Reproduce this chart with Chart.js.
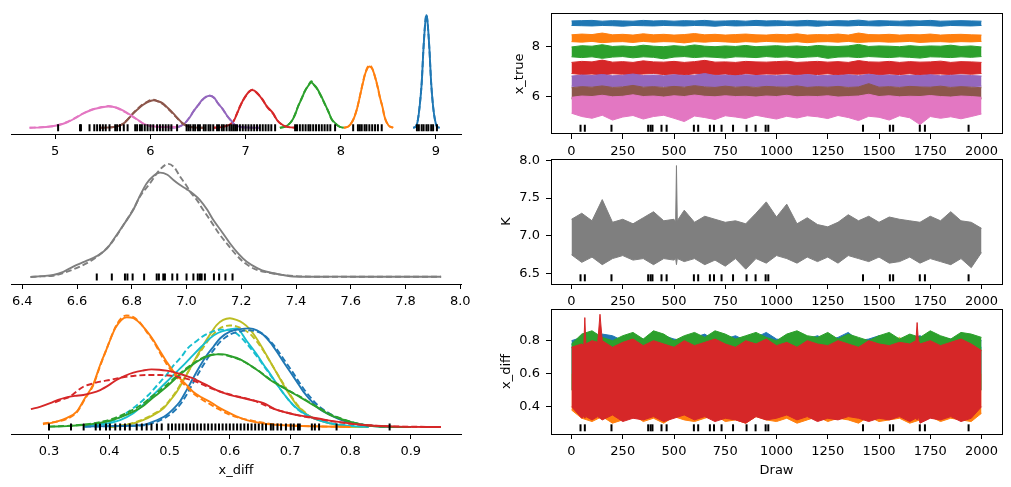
<!DOCTYPE html>
<html><head><meta charset="utf-8">
<script src="https://cdn.jsdelivr.net/npm/chart.js@4.4.1/dist/chart.umd.min.js"></script>
<style>
html,body{margin:0;padding:0;background:#fff;width:1011px;height:487px;overflow:hidden}
canvas{position:absolute;left:0;top:0}
</style></head><body>
<canvas id="c1" width="1011" height="487"></canvas>
<canvas id="c2" width="1011" height="487"></canvas>
<canvas id="c3" width="1011" height="487"></canvas>
<canvas id="c4" width="1011" height="487"></canvas>
<canvas id="c5" width="1011" height="487"></canvas>
<canvas id="c6" width="1011" height="487"></canvas>
<script>
// ---------- tick labels ----------
const xTrueTicks = [5, 6, 7, 8, 9];
const xTrueTickLabels = ['5', '6', '7', '8', '9'];
const kTicks = [6.4, 6.6, 6.8, 7.0, 7.2, 7.4, 7.6, 7.8, 8.0];
const kTickLabels = ['6.4', '6.6', '6.8', '7.0', '7.2', '7.4', '7.6', '7.8', '8.0'];
const xDiffTicks = [0.3, 0.4, 0.5, 0.6, 0.7, 0.8, 0.9];
const xDiffTickLabels = ['0.3', '0.4', '0.5', '0.6', '0.7', '0.8', '0.9'];
const drawTicks = [0, 250, 500, 750, 1000, 1250, 1500, 1750, 2000];
const drawTickLabels = ['0', '250', '500', '750', '1000', '1250', '1500', '1750', '2000'];
const xTrueYTicks = [6, 8];
const xTrueYTickLabels = ['6', '8'];
const kYTicks = [6.5, 7.0, 7.5, 8.0];
const kYTickLabels = ['6.5', '7.0', '7.5', '8.0'];
const xDiffYTicks = [0.4, 0.6, 0.8];
const xDiffYTickLabels = ['0.4', '0.6', '0.8'];

// ---------- x_true KDEs (two chains) ----------
const pinkX = [4.73,4.85,4.95,5.03,5.12,5.2,5.28,5.38,5.47,5.56,5.64,5.72,5.8,5.87,5.93,6.0,6.07,6.15,6.22,6.28];
const pinkY1 = [0,0.03,0.1,0.2,0.42,0.72,1.08,1.42,1.6,1.7,1.62,1.35,0.98,0.62,0.32,0.14,0.08,0.05,0.09,0.05];
const pinkY2 = [0,0.04,0.11,0.22,0.45,0.75,1.1,1.45,1.63,1.74,1.6,1.3,0.95,0.6,0.3,0.13,0.07,0.05,0.06,0.03];
const brownX = [5.47,5.6,5.67,5.72,5.77,5.82,5.87,5.92,5.97,6.03,6.08,6.13,6.18,6.24,6.29,6.34,6.4,6.47,6.57];
const brownY1 = [0,0.04,0.15,0.35,0.72,1.15,1.5,1.82,2.05,2.2,2.12,1.95,1.6,1.15,0.72,0.35,0.1,0.02,0];
const brownY2 = [0,0.05,0.17,0.38,0.75,1.18,1.55,1.88,2.1,2.25,2.1,1.9,1.55,1.1,0.7,0.33,0.09,0.02,0];
const purpleX = [6.2,6.3,6.36,6.41,6.45,6.5,6.54,6.58,6.62,6.67,6.71,6.76,6.8,6.85,6.89,6.95,7.05,7.15];
const purpleY1 = [0,0.08,0.35,0.8,1.28,1.8,2.2,2.45,2.56,2.4,1.95,1.5,1.02,0.55,0.22,0.06,0.01,0];
const purpleY2 = [0,0.09,0.37,0.82,1.3,1.78,2.18,2.46,2.58,2.38,1.96,1.48,1.0,0.52,0.2,0.05,0.01,0];
const redX = [6.66,6.75,6.82,6.87,6.9,6.94,6.98,7.01,7.04,7.07,7.12,7.18,7.22,7.29,7.33,7.39,7.45,7.54];
const redY1 = [0,0.05,0.2,0.48,0.95,1.68,2.3,2.65,2.9,3.02,2.8,2.2,1.75,1.15,0.62,0.22,0.05,0];
const redY2 = [0,0.06,0.22,0.5,0.98,1.7,2.28,2.62,2.92,3.05,2.75,2.25,1.72,1.1,0.6,0.2,0.05,0];
const greenX = [7.36,7.42,7.48,7.52,7.55,7.59,7.62,7.66,7.69,7.72,7.75,7.79,7.83,7.87,7.9,7.95,7.99,8.03];
const greenY1 = [0,0.1,0.48,1.05,1.68,2.35,2.88,3.38,3.62,3.42,3.15,2.6,1.95,1.3,0.75,0.3,0.08,0];
const greenY2 = [0,0.11,0.5,1.08,1.7,2.38,2.9,3.4,3.72,3.4,3.12,2.55,1.92,1.28,0.72,0.28,0.07,0];
const orangeX = [8.03,8.08,8.13,8.17,8.2,8.23,8.26,8.3,8.33,8.36,8.39,8.41,8.44,8.46,8.5,8.55];
const orangeY1 = [0,0.1,0.62,1.5,2.48,3.5,4.4,4.9,4.72,4.08,3.2,2.48,1.6,0.88,0.2,0];
const orangeY2 = [0,0.11,0.64,1.52,2.5,3.55,4.45,5.0,4.75,4.05,3.15,2.45,1.58,0.85,0.2,0];
const blueX = [8.76,8.79,8.81,8.83,8.85,8.87,8.89,8.9,8.91,8.93,8.95,8.97,8.99,9.01,9.04];
const blueY1 = [0,0.1,0.62,1.8,3.55,6.48,8.6,9.0,8.6,6.48,3.55,1.7,0.62,0.1,0];
const blueY2 = [0,0.11,0.64,1.85,3.6,6.55,8.65,9.05,8.55,6.4,3.5,1.68,0.6,0.1,0];
const xTrueRug = [5.03,5.26,5.27,5.36,5.41,5.44,5.47,5.50,5.53,5.57,5.63,5.65,5.68,5.72,5.76,5.84,5.86,5.89,5.91,5.94,5.97,6.00,6.03,6.07,6.10,6.13,6.16,6.19,6.22,6.28,6.38,6.40,6.42,6.45,6.47,6.50,6.52,6.56,6.58,6.61,6.63,6.66,6.70,6.72,6.75,6.77,6.80,6.83,6.85,6.87,6.89,6.91,6.94,6.97,7.00,7.03,7.06,7.09,7.12,7.15,7.18,7.21,7.24,7.27,7.31,7.52,7.54,7.57,7.60,7.63,7.66,7.68,7.71,7.74,7.77,7.80,7.83,7.86,7.89,7.94,8.13,8.18,8.20,8.22,8.25,8.27,8.30,8.33,8.36,8.39,8.43,8.80,8.82,8.85,8.87,8.90,8.92,8.95,8.97,9.01];

// ---------- K KDE ----------
const kKdeX1 = [6.43,6.47,6.513,6.55,6.586,6.63,6.672,6.71,6.732,6.77,6.805,6.83,6.854,6.88,6.903,6.93,6.952,6.975,7.0,7.025,7.049,7.075,7.098,7.13,7.159,7.19,7.22,7.26,7.293,7.353,7.39,7.45,7.55,7.65,7.75,7.85,7.93];
const kKdeY1 = [0.0,0.02,0.046,0.12,0.24,0.36,0.48,0.66,0.85,1.2,1.54,1.87,2.15,2.33,2.40,2.35,2.23,2.12,2.02,1.91,1.77,1.55,1.31,1.03,0.77,0.53,0.35,0.2,0.12,0.046,0.01,0.005,0.008,0.006,0.004,0.005,0.004];
const kKdeX2 = [6.43,6.47,6.513,6.55,6.61,6.65,6.69,6.73,6.77,6.805,6.83,6.866,6.9,6.933,6.955,6.976,7.0,7.013,7.04,7.06,7.086,7.115,7.147,7.18,7.207,7.25,7.3,7.35,7.4,7.5,7.6,7.7,7.8,7.93];
const kKdeY2 = [0.0,0.015,0.03,0.09,0.24,0.37,0.55,0.82,1.2,1.55,1.85,2.15,2.45,2.6,2.52,2.31,2.1,1.96,1.75,1.55,1.31,1.03,0.77,0.52,0.35,0.18,0.1,0.05,0.02,0.006,0.006,0.005,0.004,0.004];
const kRug = [6.672,6.727,6.775,6.784,6.803,6.845,6.891,6.899,6.915,6.921,6.948,6.966,7.0,7.025,7.041,7.049,7.055,7.067,7.1,7.119,7.142,7.168];

// ---------- x_diff KDEs ----------
const dOliveX = [0.401,0.43,0.456,0.473,0.49,0.501,0.512,0.523,0.534,0.545,0.556,0.567,0.578,0.589,0.6,0.611,0.622,0.633,0.644,0.656,0.667,0.678,0.689,0.7,0.711,0.722,0.733,0.75,0.766,0.794,0.83];
const dOliveY1 = [0,0.12,0.38,0.65,1.02,1.45,1.93,2.55,3.2,3.85,4.48,5.05,5.57,5.85,5.94,5.85,5.67,5.35,4.85,4.2,3.57,2.93,2.3,1.72,1.2,0.85,0.56,0.35,0.2,0.02,0];
const dOliveY2 = [0,0.14,0.42,0.7,1.08,1.5,2.0,2.6,3.2,3.8,4.35,4.85,5.25,5.48,5.55,5.5,5.35,5.1,4.7,4.15,3.55,2.95,2.35,1.78,1.25,0.88,0.58,0.36,0.2,0.02,0];
const dCyanX1 = [0.357,0.39,0.418,0.44,0.456,0.47,0.484,0.498,0.512,0.526,0.539,0.553,0.567,0.581,0.595,0.611,0.628,0.644,0.656,0.667,0.683,0.697,0.711,0.725,0.738,0.766,0.8,0.83];
const dCyanY1 = [0.02,0.15,0.38,0.75,1.2,1.65,2.11,2.56,3.02,3.48,3.93,4.4,4.85,5.15,5.3,5.39,4.7,4.0,3.4,2.9,2.1,1.5,1.02,0.7,0.48,0.2,0.06,0];
const dCyanX2 = [0.357,0.39,0.41,0.43,0.45,0.465,0.48,0.495,0.505,0.52,0.53,0.545,0.555,0.57,0.585,0.6,0.615,0.628,0.644,0.656,0.667,0.683,0.697,0.711,0.725,0.738,0.766,0.8,0.83];
const dCyanY2 = [0.02,0.2,0.4,0.8,1.3,1.75,2.3,2.85,3.3,3.85,4.3,4.7,4.95,5.2,5.32,5.3,5.0,4.55,3.9,3.35,2.85,2.1,1.5,1.0,0.7,0.5,0.22,0.07,0];
const dBlueX = [0.36,0.42,0.456,0.473,0.484,0.495,0.506,0.517,0.528,0.539,0.55,0.562,0.573,0.584,0.6,0.617,0.633,0.645,0.656,0.667,0.678,0.689,0.7,0.711,0.722,0.733,0.744,0.755,0.766,0.78,0.794,0.821,0.849,0.9];
const dBlueY1 = [0.02,0.06,0.11,0.29,0.45,0.66,0.98,1.38,2.0,2.66,3.3,3.93,4.4,4.85,5.21,5.35,5.39,5.28,5.03,4.62,4.11,3.55,3.02,2.48,1.93,1.5,1.11,0.85,0.66,0.45,0.29,0.11,0.02,0];
const dBlueY2 = [0.02,0.05,0.09,0.22,0.36,0.55,0.82,1.2,1.75,2.4,3.05,3.7,4.2,4.65,5.05,5.22,5.28,5.22,5.05,4.7,4.25,3.72,3.2,2.65,2.1,1.65,1.25,0.95,0.72,0.5,0.32,0.13,0.03,0];
const dOrangeX = [0.29,0.31,0.33,0.346,0.36,0.373,0.385,0.396,0.41,0.42,0.429,0.44,0.451,0.462,0.473,0.484,0.495,0.506,0.517,0.528,0.539,0.553,0.567,0.58,0.595,0.61,0.628,0.645,0.661,0.7,0.75,0.8];
const dOrangeY1 = [0.15,0.27,0.5,0.84,1.6,2.3,3.4,4.3,5.4,5.85,6.0,5.95,5.67,5.25,4.75,4.15,3.57,3.05,2.66,2.3,1.93,1.62,1.38,1.1,0.84,0.6,0.38,0.25,0.16,0.08,0.03,0];
const dOrangeY2 = [0.2,0.28,0.45,0.8,1.55,2.25,3.35,4.3,5.45,5.95,6.1,6.0,5.7,5.2,4.7,4.05,3.45,2.95,2.55,2.2,1.85,1.52,1.25,1.0,0.75,0.55,0.4,0.3,0.2,0.08,0.03,0];
const dGreenX = [0.3,0.33,0.357,0.38,0.401,0.42,0.44,0.455,0.468,0.482,0.495,0.509,0.523,0.537,0.55,0.564,0.578,0.59,0.6,0.617,0.633,0.65,0.667,0.685,0.7,0.717,0.733,0.75,0.766,0.783,0.799,0.815,0.832,0.86,0.9];
const dGreenY1 = [0.02,0.05,0.11,0.2,0.34,0.55,0.84,1.12,1.48,1.85,2.2,2.62,3.02,3.38,3.66,3.88,3.97,3.97,3.88,3.7,3.39,3.0,2.57,2.22,1.93,1.62,1.3,0.98,0.66,0.45,0.29,0.16,0.07,0.02,0];
const dGreenY2 = [0.02,0.06,0.13,0.24,0.4,0.64,0.95,1.25,1.6,1.95,2.3,2.7,3.08,3.42,3.7,3.9,3.98,3.95,3.86,3.68,3.38,3.02,2.6,2.25,1.95,1.65,1.33,1.0,0.7,0.48,0.3,0.17,0.08,0.02,0];
const dRedX1 = [0.27,0.285,0.302,0.315,0.329,0.343,0.357,0.37,0.385,0.4,0.412,0.426,0.44,0.455,0.47,0.483,0.495,0.51,0.523,0.537,0.55,0.564,0.578,0.592,0.606,0.62,0.639,0.656,0.678,0.711,0.744,0.777,0.821,0.877,0.95];
const dRedY1 = [0.98,1.1,1.3,1.48,1.62,1.7,1.75,1.85,2.02,2.3,2.57,2.8,2.97,3.08,3.15,3.13,3.08,2.97,2.84,2.68,2.48,2.25,2.02,1.84,1.7,1.6,1.45,1.3,0.93,0.66,0.48,0.29,0.11,0.02,0];
const dRedX2 = [0.31,0.322,0.335,0.346,0.357,0.37,0.385,0.401,0.42,0.44,0.46,0.484,0.512,0.54,0.57,0.6,0.639,0.672,0.705,0.744,0.8,0.855,0.95];
const dRedY2 = [1.35,1.5,1.66,1.95,2.2,2.35,2.48,2.57,2.7,2.79,2.84,2.84,2.75,2.52,2.1,1.78,1.45,1.0,0.7,0.45,0.18,0.05,0];
const xDiffRug = [0.300,0.3365,0.3575,0.3775,0.3846,0.3946,0.401,0.41,0.418,0.426,0.434,0.4455,0.454,0.462,0.470,0.479,0.487,0.498,0.504,0.51,0.516,0.522,0.528,0.534,0.54,0.546,0.552,0.558,0.564,0.57,0.576,0.582,0.588,0.594,0.6,0.606,0.612,0.618,0.624,0.63,0.636,0.642,0.648,0.654,0.66,0.668,0.672,0.679,0.685,0.693,0.701,0.706,0.713,0.716,0.736,0.741,0.748,0.777,0.865];

// ---------- traces (envelopes read per 50 draws) ----------
const traceDraws = [0,50,100,150,200,250,300,350,400,450,500,550,600,650,700,750,800,850,900,950,1000,1050,1100,1150,1200,1250,1300,1350,1400,1450,1500,1550,1600,1650,1700,1750,1800,1850,1900,1950,2000];
const blueHi = [9.00,9.01,9.02,8.99,9.01,9.00,8.99,9.02,9.00,9.01,8.99,9.01,9.00,9.02,8.99,9.00,9.01,8.99,9.02,9.00,9.01,8.99,9.00,9.02,9.00,8.99,9.01,9.00,9.03,8.99,9.01,9.00,8.99,9.01,9.00,9.02,8.99,9.00,9.01,9.00,8.99];
const blueLo = [8.82,8.81,8.80,8.82,8.81,8.79,8.82,8.81,8.80,8.82,8.81,8.80,8.82,8.81,8.79,8.82,8.80,8.81,8.82,8.80,8.81,8.82,8.80,8.81,8.79,8.82,8.81,8.80,8.82,8.81,8.80,8.82,8.81,8.80,8.82,8.81,8.79,8.82,8.81,8.80,8.82];
const orangeHi = [8.45,8.48,8.46,8.52,8.45,8.47,8.44,8.49,8.45,8.47,8.44,8.46,8.50,8.45,8.47,8.44,8.46,8.48,8.45,8.44,8.47,8.45,8.49,8.44,8.46,8.45,8.48,8.44,8.52,8.46,8.45,8.47,8.44,8.46,8.45,8.48,8.44,8.46,8.47,8.45,8.44];
const orangeLo = [8.18,8.16,8.19,8.14,8.17,8.18,8.15,8.19,8.16,8.18,8.17,8.13,8.18,8.16,8.19,8.17,8.15,8.18,8.16,8.19,8.17,8.16,8.18,8.14,8.17,8.18,8.16,8.19,8.15,8.17,8.18,8.16,8.17,8.19,8.15,8.17,8.18,8.16,8.18,8.17,8.19];
const greenHi = [7.97,8.02,8.00,8.06,7.99,8.01,7.98,8.04,8.00,7.98,8.02,7.99,8.05,8.00,7.98,8.01,7.99,8.03,7.98,8.00,8.02,7.99,8.01,7.98,8.03,8.00,7.99,8.01,8.07,7.99,8.01,8.00,7.98,8.02,7.99,8.01,8.00,8.04,7.99,8.01,7.97];
const greenLo = [7.58,7.55,7.58,7.52,7.57,7.59,7.54,7.58,7.56,7.50,7.57,7.59,7.55,7.58,7.56,7.53,7.58,7.57,7.55,7.59,7.56,7.58,7.54,7.57,7.59,7.52,7.57,7.58,7.55,7.59,7.57,7.55,7.58,7.56,7.53,7.58,7.57,7.55,7.58,7.56,7.59];
const redHi = [7.36,7.40,7.38,7.45,7.37,7.39,7.36,7.42,7.38,7.37,7.40,7.36,7.39,7.44,7.37,7.38,7.36,7.40,7.38,7.37,7.39,7.41,7.36,7.38,7.40,7.37,7.39,7.36,7.43,7.38,7.37,7.40,7.36,7.39,7.37,7.38,7.41,7.36,7.39,7.38,7.36];
const redLo = [6.92,6.88,6.90,6.86,6.91,6.89,6.87,6.90,6.92,6.88,6.90,6.86,6.91,6.89,6.87,6.90,6.84,6.91,6.88,6.90,6.89,6.91,6.87,6.90,6.88,6.91,6.86,6.90,6.89,6.91,6.87,6.90,6.88,6.91,6.86,6.89,6.90,6.88,6.91,6.89,6.92];
const purpleHi = [6.82,6.86,6.84,6.88,6.83,6.85,6.90,6.84,6.86,6.83,6.87,6.84,6.85,6.92,6.84,6.86,6.83,6.87,6.84,6.85,6.83,6.86,6.84,6.88,6.83,6.85,6.84,6.87,6.83,6.89,6.84,6.86,6.83,6.85,6.84,6.87,6.83,6.85,6.86,6.84,6.82];
const purpleLo = [6.42,6.38,6.40,6.35,6.39,6.41,6.37,6.40,6.38,6.41,6.36,6.40,6.39,6.41,6.35,6.39,6.40,6.38,6.41,6.37,6.40,6.39,6.41,6.36,6.40,6.38,6.41,6.39,6.37,6.40,6.38,6.41,6.39,6.36,6.40,6.38,6.41,6.39,6.37,6.40,6.42];
const brownHi = [6.36,6.40,6.38,6.43,6.37,6.39,6.45,6.38,6.40,6.37,6.41,6.38,6.44,6.39,6.37,6.42,6.38,6.40,6.37,6.41,6.39,6.38,6.43,6.37,6.40,6.38,6.41,6.37,6.39,6.52,6.38,6.40,6.37,6.41,6.39,6.38,6.42,6.37,6.40,6.38,6.36];
const brownLo = [5.92,5.88,5.86,5.90,5.87,5.91,5.84,5.89,5.87,5.91,5.86,5.89,5.90,5.83,5.88,5.90,5.87,5.91,5.86,5.89,5.91,5.87,5.90,5.85,5.89,5.91,5.86,5.88,5.90,5.84,5.89,5.91,5.87,5.90,5.86,5.89,5.91,5.87,5.90,5.88,5.92];
const pinkHi = [5.98,6.03,6.01,6.06,6.00,6.02,6.08,6.01,6.03,5.99,6.04,6.01,6.07,6.02,6.00,6.04,6.01,6.02,5.99,6.03,6.01,6.06,6.00,6.02,6.01,6.04,5.99,6.01,6.03,6.10,6.01,6.04,6.00,6.02,6.01,6.05,6.01,5.99,6.03,6.01,5.98];
const pinkLo = [5.35,5.22,5.15,5.27,5.08,5.20,5.26,5.12,5.22,5.27,5.15,5.02,5.24,5.18,5.10,5.25,5.20,5.14,5.27,5.19,5.12,5.23,5.16,5.25,5.21,5.14,5.26,5.18,5.06,5.23,5.19,5.08,5.25,5.17,4.90,5.22,5.15,5.21,5.13,5.22,5.32];

const kDraws = [0,50,100,150,200,250,300,350,400,450,500,508,512,516,550,600,650,700,750,800,850,900,950,1000,1050,1100,1150,1200,1250,1300,1350,1400,1450,1500,1550,1600,1650,1700,1750,1800,1850,1900,1950,2000];
const kHi = [7.22,7.30,7.20,7.48,7.18,7.22,7.16,7.24,7.32,7.20,7.22,7.18,7.93,7.20,7.34,7.18,7.26,7.22,7.18,7.20,7.16,7.30,7.45,7.25,7.42,7.16,7.24,7.15,7.12,7.18,7.28,7.20,7.26,7.18,7.25,7.22,7.20,7.18,7.26,7.20,7.32,7.20,7.18,7.10];
const kLo = [6.75,6.65,6.72,6.62,6.70,6.74,6.68,6.70,6.62,6.70,6.68,6.70,6.62,6.70,6.66,6.70,6.62,6.68,6.60,6.70,6.56,6.70,6.64,6.74,6.70,6.64,6.72,6.66,6.72,6.64,6.74,6.70,6.66,6.72,6.64,6.66,6.72,6.64,6.70,6.66,6.62,6.70,6.58,6.78];

const xdGreenHi = [0.78,0.84,0.86,0.82,0.80,0.83,0.85,0.81,0.86,0.84,0.80,0.83,0.85,0.82,0.86,0.84,0.81,0.83,0.85,0.82,0.80,0.84,0.86,0.83,0.82,0.85,0.81,0.84,0.82,0.80,0.83,0.85,0.81,0.84,0.82,0.86,0.83,0.81,0.85,0.84,0.82];
const xdBlueHi = [0.80,0.82,0.80,0.84,0.83,0.80,0.82,0.81,0.79,0.83,0.81,0.80,0.82,0.84,0.80,0.81,0.83,0.80,0.82,0.85,0.81,0.80,0.82,0.81,0.83,0.80,0.82,0.85,0.80,0.81,0.83,0.82,0.80,0.81,0.83,0.80,0.82,0.81,0.80,0.83,0.80];
const xdOliveHi = [0.76,0.78,0.80,0.77,0.79,0.75,0.78,0.80,0.77,0.76,0.79,0.78,0.82,0.77,0.79,0.80,0.76,0.78,0.77,0.79,0.78,0.76,0.80,0.77,0.78,0.79,0.76,0.78,0.80,0.77,0.79,0.78,0.82,0.77,0.78,0.76,0.79,0.78,0.80,0.77,0.75];
const xdCyanHi = [0.78,0.80,0.77,0.79,0.81,0.78,0.76,0.79,0.80,0.77,0.78,0.80,0.79,0.82,0.78,0.77,0.80,0.79,0.78,0.80,0.77,0.79,0.78,0.80,0.81,0.78,0.77,0.79,0.80,0.78,0.79,0.77,0.80,0.78,0.79,0.81,0.78,0.77,0.79,0.78,0.76];
const xdOrangeLo = [0.38,0.33,0.31,0.34,0.30,0.32,0.35,0.31,0.33,0.30,0.34,0.32,0.31,0.33,0.35,0.31,0.32,0.30,0.34,0.32,0.31,0.33,0.30,0.32,0.34,0.31,0.33,0.32,0.30,0.34,0.31,0.32,0.33,0.30,0.32,0.34,0.31,0.33,0.32,0.31,0.36];
const xdRedDraws = [0,50,60,65,70,100,128,139,150,200,250,300,350,400,450,500,550,600,650,700,750,800,850,900,950,1000,1050,1100,1150,1200,1250,1300,1350,1400,1450,1500,1550,1600,1650,1680,1686,1692,1700,1750,1800,1850,1900,1950,2000];
const xdRedHi = [0.76,0.78,0.77,0.94,0.78,0.80,0.79,0.96,0.80,0.76,0.79,0.81,0.77,0.80,0.78,0.76,0.80,0.77,0.79,0.81,0.78,0.76,0.80,0.78,0.81,0.77,0.79,0.76,0.80,0.78,0.77,0.80,0.78,0.76,0.80,0.78,0.77,0.79,0.78,0.80,0.91,0.80,0.78,0.80,0.77,0.79,0.81,0.78,0.74];
const xdRedLo = [0.40,0.33,0.34,0.33,0.34,0.32,0.34,0.33,0.32,0.35,0.31,0.33,0.32,0.34,0.31,0.33,0.35,0.32,0.34,0.31,0.33,0.32,0.30,0.34,0.32,0.33,0.35,0.32,0.34,0.31,0.33,0.32,0.34,0.33,0.31,0.33,0.32,0.34,0.31,0.33,0.32,0.34,0.30,0.33,0.32,0.34,0.31,0.33,0.40];
const divergentDraws = [44,65,195,374,386,395,439,464,597,618,675,695,732,788,854,898,947,960,1422,1553,1569,1699,1724,1937];

// ---------- rendering ----------
const C = {blue:'#1f77b4', orange:'#ff7f0e', green:'#2ca02c', red:'#d62728', purple:'#9467bd',
           brown:'#8c564b', pink:'#e377c2', gray:'#7f7f7f', olive:'#bcbd22', cyan:'#17becf'};
const FONT = {family: "'DejaVu Sans', 'Liberation Sans', sans-serif", size: 13};
Chart.defaults.font.family = FONT.family;
Chart.defaults.font.size = FONT.size;
Chart.defaults.color = '#000';

const xy = (xs, ys) => xs.map((x, i) => ({x: x, y: ys[i]}));
function kde(xs, ys, color, dashed) {
  return {data: xy(xs, ys), borderColor: color, borderWidth: 1.9, borderDash: dashed ? [6, 3] : [],
          pointRadius: 0, fill: false, cubicInterpolationMode: 'monotone'};
}
function rug(vals, y) {
  return {data: vals.map(v => ({x: v, y: y})), showLine: false, pointStyle: 'line', pointRotation: 90,
          pointRadius: 3.5, pointBorderWidth: 2, pointBorderColor: '#000', pointBackgroundColor: '#000'};
}
function band(xs, lo, hi, color) {
  return [
    {data: xy(xs, lo), borderColor: color, borderWidth: 1, pointRadius: 0, fill: false, tension: 0},
    {data: xy(xs, hi), borderColor: color, borderWidth: 1, pointRadius: 0, fill: '-1', backgroundColor: color, tension: 0}
  ];
}
function bandTo(xs, edge, base, color) {
  return {data: xy(xs, edge), borderColor: color, borderWidth: 1, pointRadius: 0, fill: {value: base}, backgroundColor: color, tension: 0};
}
const boxPlugin = {id: 'box', afterDatasetsDraw(chart) {
  const a = chart.chartArea, c = chart.ctx;
  c.save(); c.strokeStyle = '#000'; c.lineWidth = 1;
  c.strokeRect(Math.floor(a.left) + 0.5, Math.floor(a.top) + 0.5, Math.round(a.right - a.left), Math.round(a.bottom - a.top));
  c.restore();
}};

function panel(id, o) {
  const ds = o.datasets;
  ds.forEach((d, i) => { d.order = ds.length - i; });
  const xScale = {
    type: 'linear', min: o.xmin, max: o.xmax,
    afterBuildTicks: s => { s.ticks = o.xticks.map(v => ({value: v})); },
    afterFit: s => { s.height = o.xh; },
    grid: {display: true, drawOnChartArea: false, drawTicks: true, tickLength: 5, tickColor: '#000', tickWidth: 1, color: '#000'},
    border: {display: !o.box, color: '#000', width: 1},
    ticks: {autoSkip: false, maxRotation: 0, minRotation: 0, padding: 5, color: '#000', font: FONT,
            callback: (v, i) => o.xlabels[i]},
    title: o.xtitle ? {display: true, text: o.xtitle, color: '#000', font: FONT, padding: {top: 0, bottom: 0.5}} : {display: false}
  };
  const yScale = o.yticks ? {
    type: 'linear', min: o.ymin, max: o.ymax,
    afterBuildTicks: s => { s.ticks = o.yticks.map(v => ({value: v})); },
    afterFit: s => { s.width = 52; },
    grid: {display: true, drawOnChartArea: false, drawTicks: true, tickLength: 5, tickColor: '#000', tickWidth: 1},
    border: {display: false},
    ticks: {autoSkip: false, padding: 6, color: '#000', font: FONT, callback: (v, i) => o.ylabels[i]},
    title: {display: true, text: o.ytitle, color: '#000', font: FONT, padding: {top: o.ytitlePad, bottom: 0}}
  } : {type: 'linear', display: false, min: o.ymin, max: o.ymax};
  return new Chart(document.getElementById(id), {
    type: 'line',
    data: {datasets: ds},
    options: {
      responsive: false, animation: false, events: [],
      layout: {padding: o.pad},
      plugins: {legend: {display: false}, tooltip: {enabled: false}},
      scales: {x: xScale, y: yScale}
    },
    plugins: o.box ? [boxPlugin] : []
  });
}

// top-left: x_true KDE
panel('c1', {
  pad: {left: 11, right: 550, top: 9, bottom: 323}, xh: 30,
  xmin: 4.535, xmax: 9.263, ymin: -0.5, ymax: 9.5,
  xticks: xTrueTicks, xlabels: xTrueTickLabels,
  datasets: [
    kde(blueX, blueY1, C.blue), kde(blueX, blueY2, C.blue, true),
    kde(orangeX, orangeY1, C.orange), kde(orangeX, orangeY2, C.orange, true),
    kde(greenX, greenY1, C.green), kde(greenX, greenY2, C.green, true),
    kde(redX, redY1, C.red), kde(redX, redY2, C.red, true),
    kde(purpleX, purpleY1, C.purple), kde(purpleX, purpleY2, C.purple, true),
    kde(brownX, brownY1, C.brown), kde(brownX, brownY2, C.brown, true),
    kde(pinkX, pinkY1, C.pink), kde(pinkX, pinkY2, C.pink, true),
    rug(xTrueRug, 0)
  ]
});

// middle-left: K KDE
panel('c2', {
  pad: {left: 11, right: 550, top: 159, bottom: 173}, xh: 30,
  xmin: 6.3587, xmax: 8.0026, ymin: -0.161, ymax: 2.713,
  xticks: kTicks, xlabels: kTickLabels,
  datasets: [kde(kKdeX1, kKdeY1, C.gray), kde(kKdeX2, kKdeY2, C.gray, true), rug(kRug, 0)]
});

// bottom-left: x_diff KDE
panel('c3', {
  pad: {left: 11, right: 550, top: 309, bottom: 8}, xh: 45, xtitle: 'x_diff',
  xmin: 0.237, xmax: 0.9834, ymin: -0.383, ymax: 6.448,
  xticks: xDiffTicks, xlabels: xDiffTickLabels,
  datasets: [
    kde(dOliveX, dOliveY1, C.olive), kde(dOliveX, dOliveY2, C.olive, true),
    kde(dCyanX1, dCyanY1, C.cyan), kde(dCyanX2, dCyanY2, C.cyan, true),
    kde(dBlueX, dBlueY1, C.blue), kde(dBlueX, dBlueY2, C.blue, true),
    kde(dOrangeX, dOrangeY1, C.orange), kde(dOrangeX, dOrangeY2, C.orange, true),
    kde(dGreenX, dGreenY1, C.green), kde(dGreenX, dGreenY2, C.green, true),
    kde(dRedX1, dRedY1, C.red), kde(dRedX2, dRedY2, C.red, true),
    rug(xDiffRug, 0)
  ]
});

// top-right: x_true traces
panel('c4', {
  pad: {left: 499, right: 9, top: 9, bottom: 323}, xh: 30, box: true,
  xmin: -100, xmax: 2100, ymin: 4.529, ymax: 9.281,
  xticks: drawTicks, xlabels: drawTickLabels,
  yticks: xTrueYTicks, ylabels: xTrueYTickLabels, ytitle: 'x_true', ytitlePad: 13.2,
  datasets: [].concat(
    band(traceDraws, blueLo, blueHi, C.blue),
    band(traceDraws, orangeLo, orangeHi, C.orange),
    band(traceDraws, greenLo, greenHi, C.green),
    band(traceDraws, redLo, redHi, C.red),
    band(traceDraws, purpleLo, purpleHi, C.purple),
    band(traceDraws, brownLo, brownHi, C.brown),
    band(traceDraws, pinkLo, pinkHi, C.pink),
    [rug(divergentDraws, 4.76)]
  )
});

// middle-right: K trace
panel('c5', {
  pad: {left: 499, right: 9, top: 159, bottom: 173}, xh: 30, box: true,
  xmin: -100, xmax: 2100, ymin: 6.364, ymax: 8.017,
  xticks: drawTicks, xlabels: drawTickLabels,
  yticks: kYTicks, ylabels: kYTickLabels, ytitle: 'K', ytitlePad: 0,
  datasets: [].concat(band(kDraws, kLo, kHi, C.gray), [rug(divergentDraws, 6.446)])
});

// bottom-right: x_diff traces
panel('c6', {
  pad: {left: 499, right: 9, top: 309, bottom: 8}, xh: 45, xtitle: 'Draw', box: true,
  xmin: -100, xmax: 2100, ymin: 0.2345, ymax: 0.992,
  xticks: drawTicks, xlabels: drawTickLabels,
  yticks: xDiffYTicks, ylabels: xDiffYTickLabels, ytitle: 'x_diff', ytitlePad: 0.2,
  datasets: [
    bandTo(traceDraws, xdOliveHi, 0.5, C.olive),
    bandTo(traceDraws, xdCyanHi, 0.5, C.cyan),
    bandTo(traceDraws, xdBlueHi, 0.5, C.blue),
    bandTo(traceDraws, xdOrangeLo, 0.6, C.orange),
    bandTo(traceDraws, xdGreenHi, 0.5, C.green)
  ].concat(band(xdRedDraws, xdRedLo, xdRedHi, C.red), [rug(divergentDraws, 0.272)])
});
</script>
</body></html>
